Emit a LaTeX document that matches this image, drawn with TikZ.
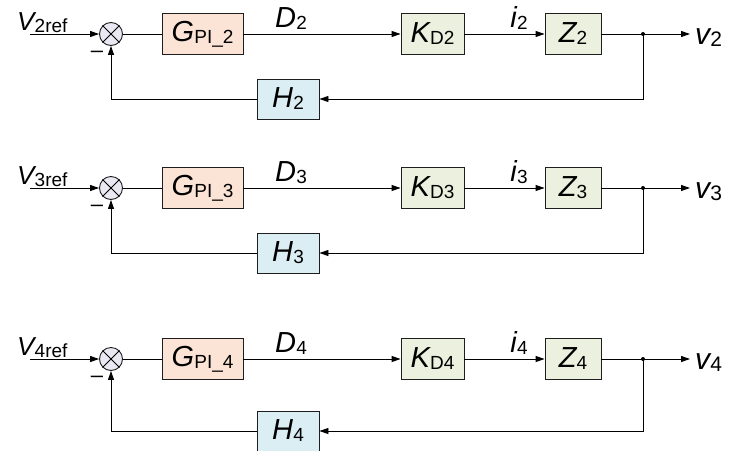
\documentclass[tikz,border=0pt]{standalone}
\usepackage{fontspec}
\setmainfont{Liberation Sans}
\usetikzlibrary{arrows.meta}
\definecolor{gfill}{RGB}{251,228,214}
\definecolor{kfill}{RGB}{235,241,222}
\definecolor{hfill}{RGB}{219,238,244}
\definecolor{sfill}{RGB}{234,232,242}
\definecolor{edge}{RGB}{30,30,30}
\newcommand{\lab}[4]{{\fontsize{#3}{#3}\selectfont\itshape #1}\kern0.02em\raisebox{-0.2em}{\fontsize{#4}{#4}\selectfont #2}}
\begin{document}
\begin{tikzpicture}[x=1pt,y=-1pt,
  wire/.style={line width=0.9pt},
  arr/.style={wire,-{Triangle[length=9pt,width=6pt]}},
  blk/.style={draw=edge,line width=0.9pt,minimum height=41pt,inner sep=0pt},
  hblk/.style={blk,minimum height=40pt,fill=hfill,minimum width=62pt},
  sumnode/.style={circle,draw=edge,line width=0.9pt,fill=sfill,minimum size=23pt,inner sep=0pt},
  txt/.style={inner sep=0pt}]
\useasboundingbox (0,0) rectangle (744,450);
\foreach \r/\m/\f in {2/34/99,3/188/253,4/359/431}{
  \node[sumnode] (s\r) at (111,\m) {};
  \draw[wire] (s\r.north west) -- (s\r.south east) (s\r.north east) -- (s\r.south west);
  \node[blk,fill=gfill,minimum width=81pt] (G\r) at (202.5,\m) {\lab{G}{PI\_\r}{29}{19}};
  \node[blk,fill=kfill,minimum width=63pt] (K\r) at (432.5,\m) {\lab{K}{D\r}{29}{19}};
  \node[blk,fill=kfill,minimum width=56pt] (Z\r) at (573,\m) {\lab{Z}{\r}{29}{19}};
  \node[hblk] (H\r) at (288,\f) {\lab{H}{\r}{29}{19}};
  \coordinate (in\r) at (30,\m);
  \coordinate (j\r) at (643,\m);
  \coordinate (o\r) at (690,\m);
  \draw[arr] (in\r) -- (s\r.west);
  \draw[wire] (s\r.east) -- (G\r.west);
  \draw[arr] (G\r.east) -- (K\r.west);
  \draw[arr] (K\r.east) -- (Z\r.west);
  \draw[wire] (Z\r.east) -- (j\r);
  \fill (j\r) circle (2pt);
  \draw[arr] (j\r) -- (o\r);
  \draw[arr] (j\r) |- (H\r.east);
  \draw[arr] (H\r.west) -| (s\r.south);
  \node[txt,anchor=base west] (vr\r) at (17,\m-4) {\lab{V}{\r ref}{26}{19}};
  \node[txt,anchor=base] (d\r) at (291,\m-7) {\lab{D}{\r}{29}{19}};
  \node[txt,anchor=base] (i\r) at (519,\m-7) {\lab{i}{\r}{29}{19}};
  \node[txt,anchor=west] (v\r) at (695,\m+4) {\lab{v}{\r}{30}{21}};
  \node[txt] (m\r) at (97,\m+20) {\fontsize{22}{22}\selectfont \textendash};
}
\end{tikzpicture}
\end{document}
